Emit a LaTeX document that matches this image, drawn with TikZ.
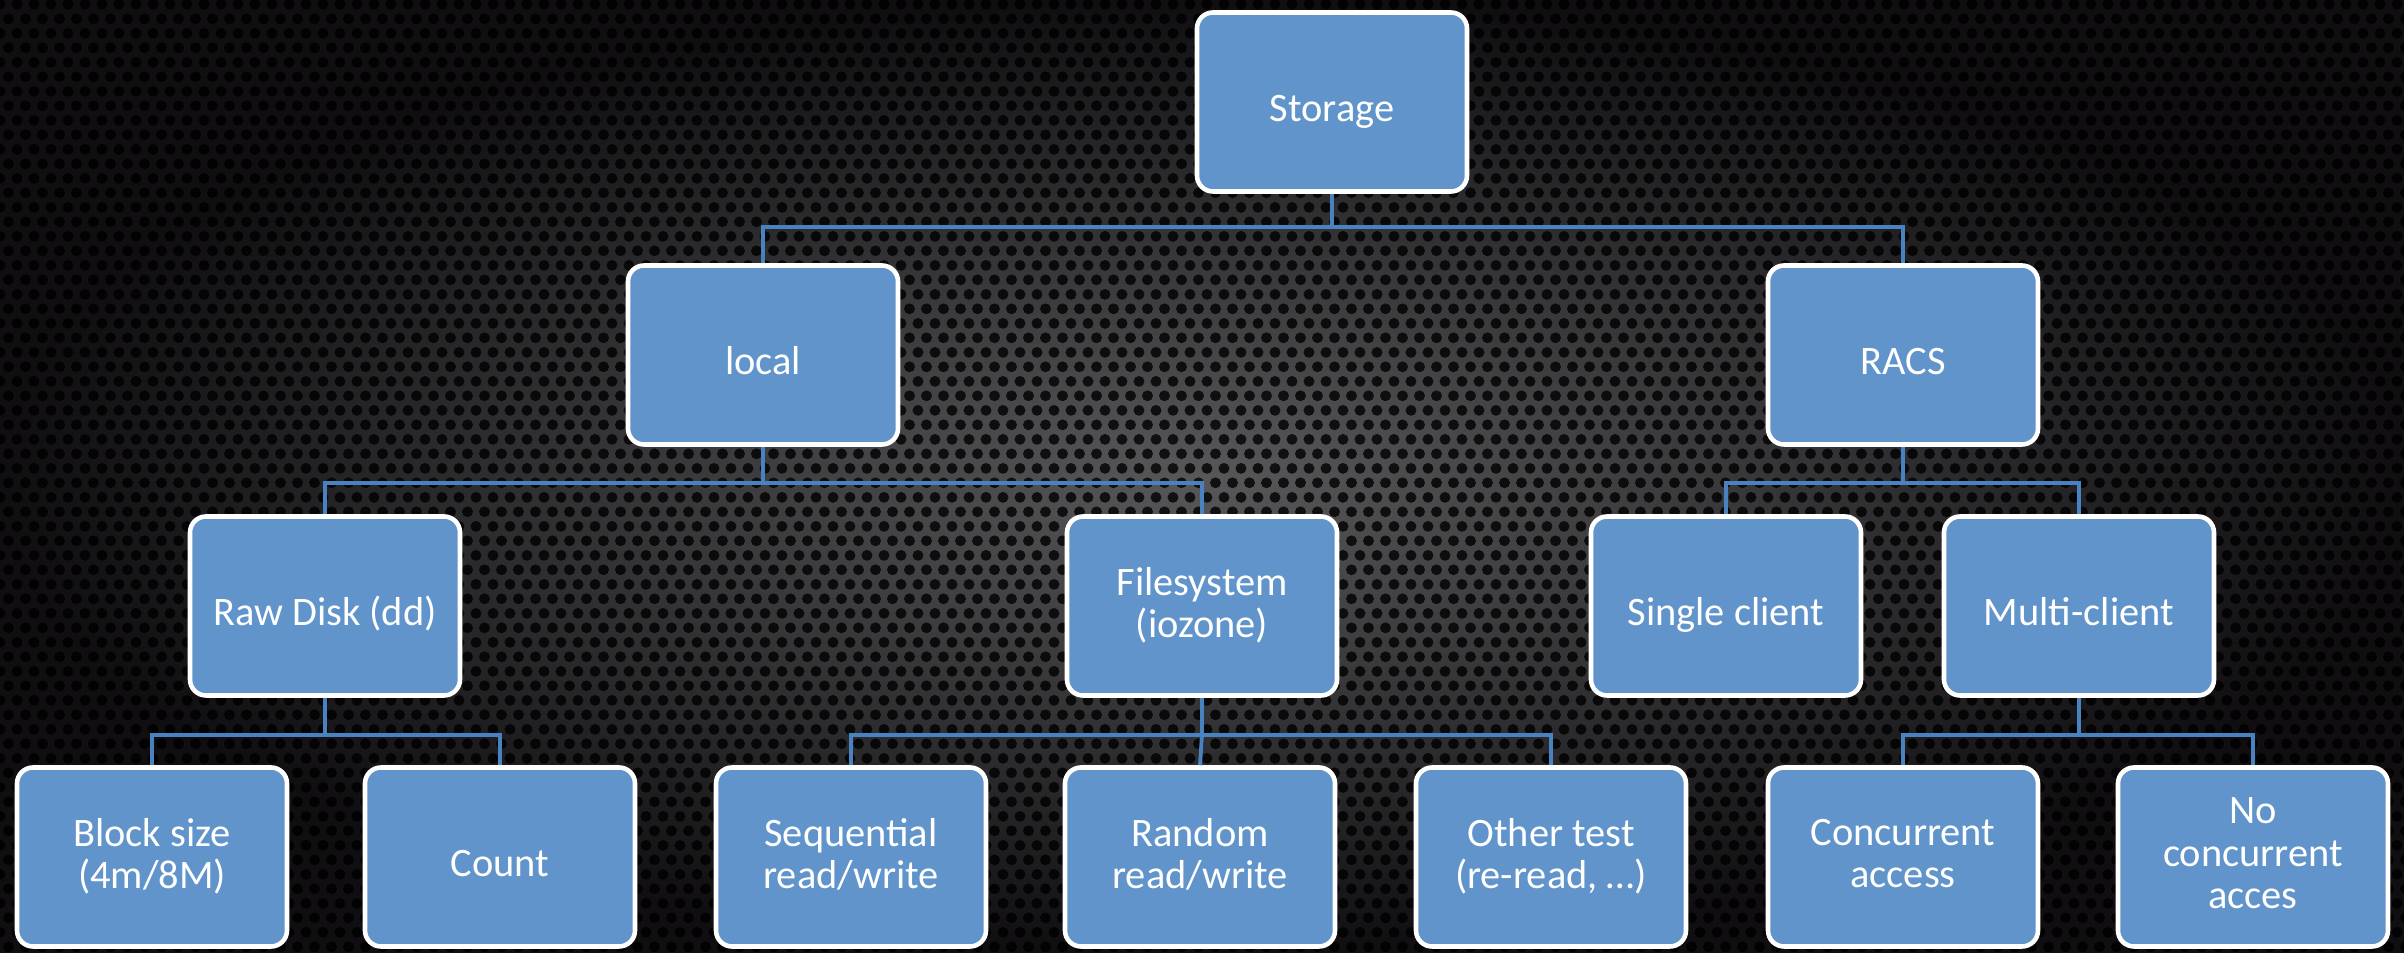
\documentclass[tikz,border=0pt]{standalone}
\usepackage{fontspec}
\setmainfont{Carlito}
\usetikzlibrary{positioning,patterns}

\definecolor{boxblue}{RGB}{96,148,202}
\definecolor{linkblue}{RGB}{72,130,192}
\definecolor{meshgray}{RGB}{88,88,90}
\definecolor{meshdark}{RGB}{16,14,16}

% perforated mesh holes
\pgfdeclarepatternformonly{meshholes}{\pgfpointorigin}{\pgfpoint{1.7mm}{2.94mm}}{\pgfpoint{1.7mm}{2.94mm}}{
  \pgfpathcircle{\pgfpoint{0.85mm}{0.735mm}}{0.55mm}
  \pgfpathcircle{\pgfpoint{0mm}{2.205mm}}{0.55mm}
  \pgfpathcircle{\pgfpoint{1.7mm}{2.205mm}}{0.55mm}
  \pgfusepath{fill}
}

\tikzset{
  box/.style={draw=white, line width=1.3pt, fill=boxblue, rounded corners=1.6mm,
              minimum width=27mm, minimum height=17.9mm, align=center, text=white,
              font=\fontsize{11.5}{12}\selectfont, inner sep=0pt,
              execute at begin node=\rule{0pt}{13.5pt},
              execute at end node=\rule[-2.2pt]{0pt}{2.2pt}},
  link/.style={draw=linkblue, line width=1.1pt},
}

\begin{document}
\begin{tikzpicture}[x=0.1mm,y=-0.1mm]
            % background
            \useasboundingbox (0,0) rectangle (2404,953);
            \shade[inner color=meshgray, outer color=meshdark] (0,0) rectangle (2404,953);
            \fill[pattern=meshholes, pattern color=black, opacity=0.8] (0,0) rectangle (2404,953);
            % boxes
            \node[box] (storage) at (1332,102) {Storage};
            \node[box] (local)   at (763,355)  {local};
            \node[box] (racs)    at (1903,355) {RACS};
            \node[box] (rawdisk) at (325,606)  {Raw Disk (dd)};
            \node[box] (filesys) at (1202,606) {Filesystem\\(iozone)};
            \node[box] (single)  at (1726,606) {Single client};
            \node[box] (multi)   at (2079,606) {Multi-client};
            \node[box] (block)   at (152,857)  {Block size\\(4m/8M)};
            \node[box] (count)   at (500,857)  {Count};
            \node[box] (seq)     at (851,857)  {Sequential\\read/write};
            \node[box] (rand)    at (1200,857) {Random\\read/write};
            \node[box] (other)   at (1551,857) {Other test\\(re-read, …)};
            \node[box] (conc)    at (1903,857) {Concurrent\\access};
            \node[box] (nocon)   at (2253,857) {No\\concurrent\\acces};
            % connectors
            \draw[link] (storage.south) -- ++(0,33) coordinate (busA);
            \draw[link] (local.north) |- (busA) -| (racs.north);
            \draw[link] (local.south) -- ++(0,36) coordinate (busB);
            \draw[link] (rawdisk.north) |- (busB) -| (filesys.north);
            \draw[link] (racs.south) -- ++(0,36) coordinate (busC);
            \draw[link] (single.north) |- (busC) -| (multi.north);
            \draw[link] (rawdisk.south) -- ++(0,37) coordinate (busD);
            \draw[link] (block.north) |- (busD) -| (count.north);
            \draw[link] (filesys.south) -- ++(0,37) coordinate (busE);
            \draw[link] (seq.north) |- (busE) -| (other.north);
            \draw[link] (busE) -- (rand.north);
            \draw[link] (multi.south) -- ++(0,37) coordinate (busF);
            \draw[link] (conc.north) |- (busF) -| (nocon.north);
          \end{tikzpicture}
\end{document}
